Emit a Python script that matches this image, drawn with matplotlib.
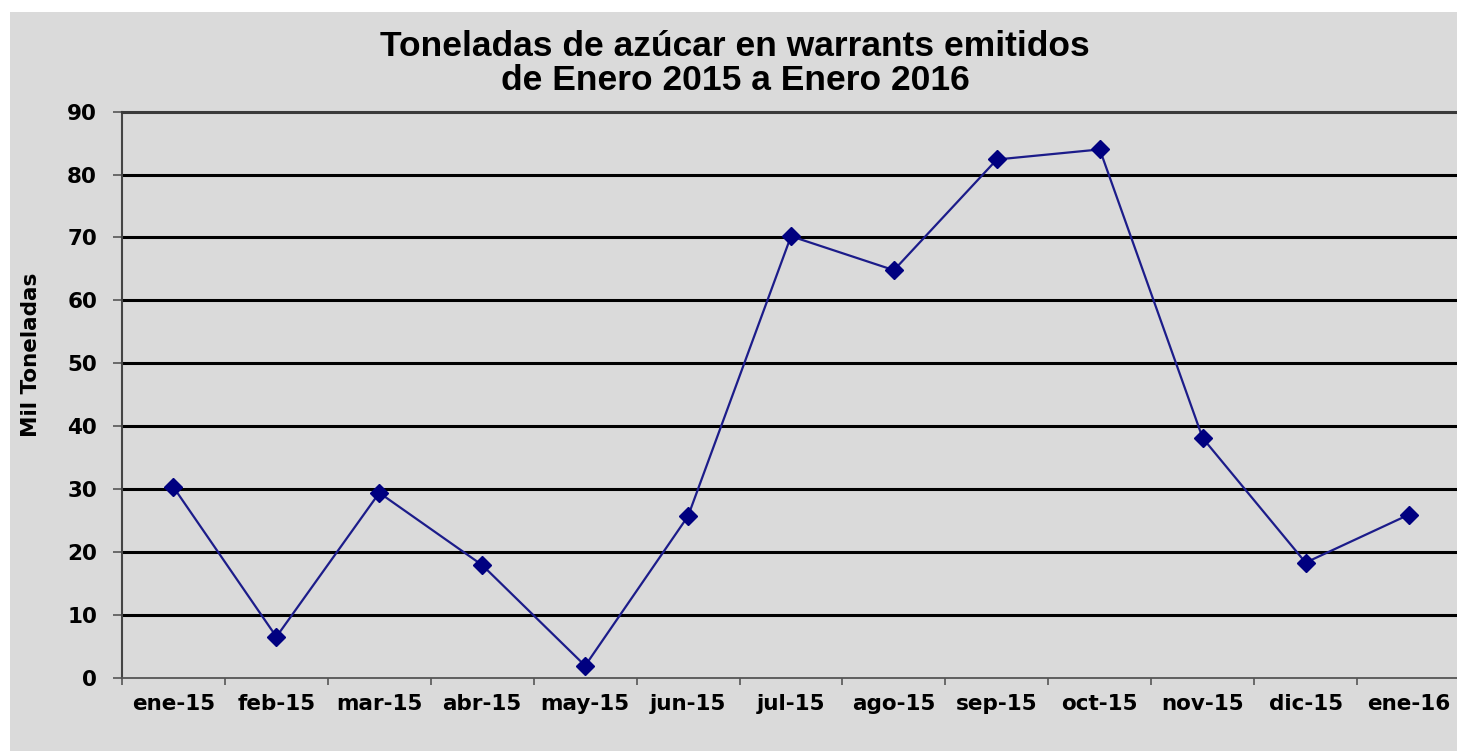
import numpy as np
import matplotlib.pyplot as plt

meses = ['ene-15', 'feb-15', 'mar-15', 'abr-15', 'may-15', 'jun-15', 'jul-15',
         'ago-15', 'sep-15', 'oct-15', 'nov-15', 'dic-15', 'ene-16']
toneladas = [30.3, 6.5, 29.4, 17.9, 1.9, 25.7, 70.2, 64.8, 82.4, 84.0, 38.1, 18.3, 25.9]
yticks = list(range(0, 91, 10))

plt.rcParams['font.family'] = ['DejaVu Sans']
plt.rcParams['font.weight'] = 'bold'

fig = plt.figure(figsize=(14.57, 7.51), dpi=100, facecolor='white')
# fondo gris (la imagen original tiene un borde blanco arriba y a la izquierda)
bg = fig.add_axes([10 / 1457, 0, 1, (751 - 12) / 751], zorder=-1)
bg.set_facecolor('#dadada')
bg.set_xticks([])
bg.set_yticks([])
for s in bg.spines.values():
    s.set_visible(False)

ax = fig.add_axes([122 / 1457, 73.3 / 751, 1338 / 1457, 566 / 751])
ax.set_facecolor('none')

x = np.arange(len(meses))
ax.plot(x, toneladas, color='#1c1c8a', lw=1.6, marker='D', markersize=9.5,
        markerfacecolor='#000080', markeredgecolor='#000080', zorder=5)

ax.set_xlim(-0.5, len(meses) - 0.5)
ax.set_ylim(0, 90)
ax.set_yticks(yticks)
ax.set_xticks(x)
ax.set_xticklabels(meses)
ax.set_xticks(np.arange(-0.5, len(meses), 1), minor=True)
ax.tick_params(axis='x', which='major', length=0, pad=12, labelsize=15.5)
ax.tick_params(axis='x', which='minor', length=5, width=1.2, color='#555555', direction='out')
ax.tick_params(axis='y', length=6.5, width=1.2, color='#555555', pad=11.5, labelsize=15.5)

ax.yaxis.grid(True, color='black', lw=2.2)
gls = ax.yaxis.get_gridlines()
gls[0].set_visible(False)
gls[-1].set_visible(False)

ax.spines['right'].set_visible(False)
ax.spines['top'].set_color('#3a3a3a')
ax.spines['top'].set_linewidth(2.2)
ax.spines['left'].set_color('#444444')
ax.spines['left'].set_linewidth(1.5)
ax.spines['bottom'].set_color('#555555')
ax.spines['bottom'].set_linewidth(1.3)

ax.set_ylabel('Mil Toneladas', fontsize=15.5, fontweight='bold')
ax.yaxis.set_label_coords(-0.068, 0.57)
ax.yaxis.label.set_verticalalignment('center')

fig.text(735 / 1457, 1 - 47 / 751, 'Toneladas de azúcar en warrants emitidos',
         ha='center', va='center', fontsize=25.5, fontweight='bold',
         family='Liberation Sans')
fig.text(735 / 1457, 1 - 81 / 751, 'de Enero 2015 a Enero 2016',
         ha='center', va='center', fontsize=25.5, fontweight='bold',
         family='Liberation Sans')

fig.savefig('out.png', dpi=100, facecolor=fig.get_facecolor())
